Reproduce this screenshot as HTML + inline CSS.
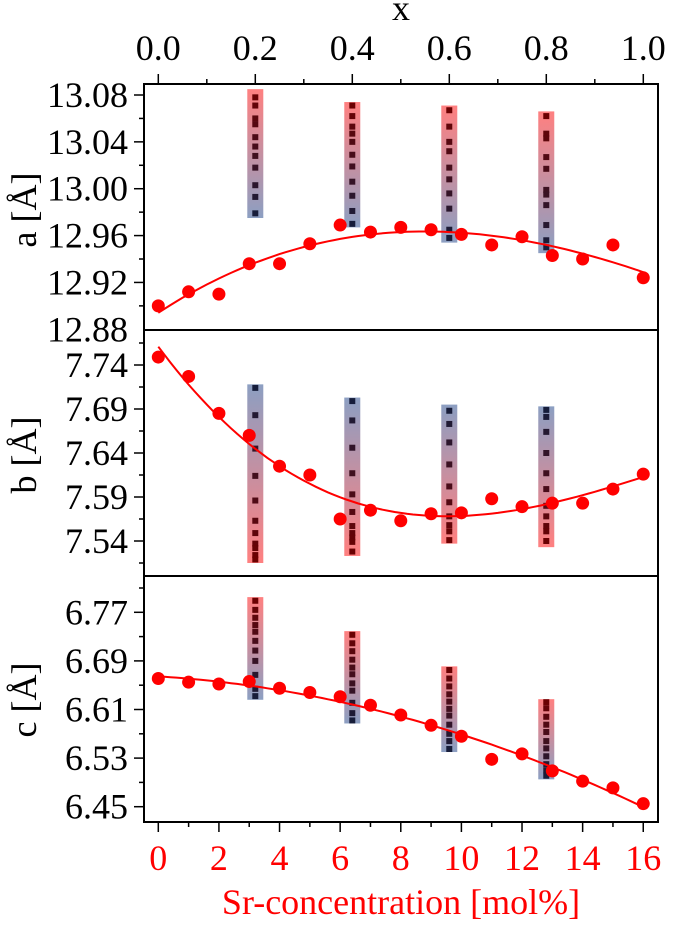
<!DOCTYPE html>
<html><head><meta charset="utf-8"><style>
html,body{margin:0;padding:0;background:#fff;}
svg{display:block;}
</style></head><body>
<svg id="chart" width="675" height="925" viewBox="0 0 675 925" xmlns="http://www.w3.org/2000/svg" font-family="Liberation Serif, Times New Roman, Tinos, serif">
<defs>
<linearGradient id="gRB" x1="0" y1="0" x2="0" y2="1"><stop offset="0" stop-color="#ff8080"/><stop offset="1" stop-color="#8c9fc2"/></linearGradient>
<linearGradient id="gBR" x1="0" y1="0" x2="0" y2="1"><stop offset="0" stop-color="#8c9fc2"/><stop offset="1" stop-color="#ff8080"/></linearGradient>
</defs>
<g id="root"></g>
</svg>
<script>
const xVals=[0,1,2,3,4,5,6,7,8,9,10,11,12,13,14,15,16];
const aVals=[12.900,12.912,12.910,12.936,12.936,12.953,12.969,12.963,12.967,12.965,12.961,12.952,12.959,12.943,12.940,12.952,12.924];
const bVals=[7.749,7.727,7.685,7.660,7.625,7.615,7.565,7.575,7.563,7.571,7.572,7.588,7.579,7.583,7.583,7.599,7.616];
const cVals=[6.661,6.655,6.652,6.656,6.645,6.638,6.631,6.617,6.601,6.584,6.566,6.528,6.537,6.509,6.492,6.481,6.455];
const boxX=[3.2,6.4,9.6,12.8];
const aBoxTop=[13.085,13.074,13.071,13.066];
const aBoxBot=[12.975,12.967,12.954,12.945];
const aSq=[[13.078,13.071,13.060,13.055,13.044,13.036,13.028,13.018,13.003,12.993,12.979],
[13.071,13.062,13.053,13.047,13.040,13.029,13.019,13.006,12.994,12.981,12.970],
[13.067,13.053,13.040,13.032,13.018,13.008,12.996,12.983,12.965,12.958],
[13.062,13.047,13.043,13.027,13.017,12.999,12.995,12.986,12.969,12.956,12.950]];
const bBoxTop=[7.718,7.703,7.695,7.693];
const bBoxBot=[7.515,7.523,7.537,7.533];
const bSq=[[7.714,7.683,7.645,7.614,7.586,7.563,7.549,7.537,7.532,7.524,7.519],
[7.699,7.677,7.646,7.617,7.593,7.573,7.557,7.549,7.544,7.539,7.528],
[7.688,7.673,7.652,7.627,7.602,7.584,7.568,7.558,7.551,7.541],
[7.689,7.681,7.664,7.640,7.617,7.599,7.580,7.568,7.557,7.551,7.540]];
const cBoxTop=[6.795,6.739,6.681,6.627];
const cBoxBot=[6.626,6.587,6.540,6.495];
const cSq=[[6.789,6.774,6.761,6.749,6.738,6.723,6.707,6.690,6.667,6.644,6.632],
[6.733,6.719,6.706,6.692,6.679,6.668,6.653,6.641,6.621,6.604,6.592],
[6.675,6.661,6.648,6.635,6.623,6.611,6.600,6.585,6.570,6.558,6.545],
[6.622,6.612,6.598,6.585,6.573,6.558,6.546,6.533,6.520,6.510,6.501]];
const aTicks=["12.88","12.92","12.96","13.00","13.04","13.08"];
const bTicks=["7.54","7.59","7.64","7.69","7.74"];
const cTicks=["6.45","6.53","6.61","6.69","6.77"];
const xTicks=["0","2","4","6","8","10","12","14","16"];
const topTicks=["0.0","0.2","0.4","0.6","0.8","1.0"];

const NS="http://www.w3.org/2000/svg";
const FF="Liberation Serif, Times New Roman, Tinos, serif";
const FS=36;
const root=document.getElementById('root');
function mk(tag,attrs,parent){const e=document.createElementNS(NS,tag);for(const k in attrs)e.setAttribute(k,attrs[k]);(parent||root).appendChild(e);return e;}
function txt(attrs,parent){attrs['font-family']=FF;attrs['font-size']=FS;return mk('text',attrs,parent);}
const L=144,R=658;
function X(v){return 158.3+v*30.31;}
function lin(v0,p0,v1,p1){return v=>p0+(v-v0)*(p1-p0)/(v1-v0);}
const panels=[
 {key:'a',top:84,bot:330,Y:lin(12.88,329.3,13.08,95),ticks:aTicks,minor:0.02,vals:aVals,deg:3,bt:aBoxTop,bb:aBoxBot,sq:aSq,grad:'gRB',sqTop:[110,0,0],sqBot:[20,30,60],title:'a [Å]',ty:210},
 {key:'b',top:330,bot:576,Y:lin(7.54,541,7.74,365),ticks:bTicks,minor:0.025,vals:bVals,deg:3,bt:bBoxTop,bb:bBoxBot,sq:bSq,grad:'gBR',sqTop:[20,30,60],sqBot:[110,0,0],title:'b [Å]',ty:455},
 {key:'c',top:576,bot:822,Y:lin(6.45,806.7,6.77,612.3),ticks:cTicks,minor:0.04,vals:cVals,deg:2,bt:cBoxTop,bb:cBoxBot,sq:cSq,grad:'gRB',sqTop:[110,0,0],sqBot:[20,30,60],title:'c [Å]',ty:700}
];
function fitPoly(xs,ys,deg){const n=deg+1;const M=[];
 for(let i=0;i<n;i++){M.push([]);for(let j=0;j<n;j++){let s=0;xs.forEach(x=>s+=Math.pow(x,i+j));M[i].push(s);}let t=0;xs.forEach((x,k)=>t+=ys[k]*Math.pow(x,i));M[i].push(t);}
 for(let i=0;i<n;i++){for(let j=i+1;j<n;j++){const f=M[j][i]/M[i][i];for(let k=i;k<=n;k++)M[j][k]-=f*M[i][k];}}
 const c=new Array(n).fill(0);for(let i=n-1;i>=0;i--){let s=M[i][n];for(let k=i+1;k<n;k++)s-=M[i][k]*c[k];c[i]=s/M[i][i];}return c;}
panels.forEach(p=>{
 const g=mk('g',{});
 
 
 boxX.forEach((bx,i)=>{
  const r=mk('rect',{x:X(bx)-8,y:p.Y(p.bt[i]),width:16,height:p.Y(p.bb[i])-p.Y(p.bt[i]),fill:'url(#'+p.grad+')'},g);
  
  
  const y0=p.Y(p.bt[i]),y1=p.Y(p.bb[i]);
  p.sq[i].forEach(v=>{const y=p.Y(v);const t=Math.max(0,Math.min(1,(y-y0)/(y1-y0)));
   const col='rgb('+p.sqTop.map((c,k)=>Math.round(c+(p.sqBot[k]-c)*t)).join(',')+')';
   const s=mk('rect',{x:X(bx)-3,y:y-3,width:6,height:6,fill:col},g);
   
   });
 });
 const c=fitPoly(xVals,p.vals,p.deg);let d='';
 for(let i=0;i<=80;i++){const x=i*16/80;let y=0;c.forEach((ck,k)=>y+=ck*Math.pow(x,k));d+=(i?'L':'M')+X(x).toFixed(1)+','+p.Y(y).toFixed(1);}
 const fl=mk('path',{d:d,fill:'none',stroke:'#f00','stroke-width':2},g);
 
 
 p.vals.forEach((v,i)=>{const ci=mk('circle',{cx:X(xVals[i]),cy:p.Y(v),r:6.5,fill:'#f00'},g);
  
  });
 const v0=parseFloat(p.ticks[0]),v1=parseFloat(p.ticks[p.ticks.length-1]);
 const ax=mk('g',{},g);
 
 
 for(let v=v0-p.minor*3;v<=v1+p.minor*3+1e-9;v+=p.minor){const y=p.Y(v);if(y<p.top+2||y>p.bot-2)continue;
  const major=Math.abs(((v-v0)/(p.minor*2))-Math.round((v-v0)/(p.minor*2)))<1e-6;
  mk('line',{x1:L-(major?10:5),x2:L,y1:y,y2:y,stroke:'#000','stroke-width':1.5},ax);}
 p.ticks.forEach(t=>{const tx=txt({x:128,y:p.Y(parseFloat(t))+12,'text-anchor':'end',fill:'#000'},ax);tx.textContent=t;
  
  });
 const tt=txt({x:0,y:0,'text-anchor':'middle',fill:'#000',transform:'translate(36,'+p.ty+') rotate(-90)'},g);
 tt.textContent=p.title;
 
 
});
const fr=mk('rect',{x:L,y:84,width:R-L,height:822-84,fill:'none',stroke:'#000','stroke-width':2});


[330,576].forEach(y=>{const l=mk('line',{x1:L,x2:R,y1:y,y2:y,stroke:'#000','stroke-width':2});
 
 });
for(let v=0;v<=16;v++){mk('line',{x1:X(v),x2:X(v),y1:822,y2:822+(v%2?5:10),stroke:'#000','stroke-width':1.5});}
xTicks.forEach(t=>{const tx=txt({x:X(parseFloat(t)),y:870,'text-anchor':'middle',fill:'#f00'});tx.textContent=t;
 
 });
const xt=txt({x:401,y:914,'text-anchor':'middle',fill:'#f00'});xt.textContent='Sr-concentration [mol%]';


function XT(v){return 158.3+v*485;}
for(let i=0;i<=10;i++){const v=i/10;mk('line',{x1:XT(v),x2:XT(v),y1:84,y2:84-(i%2?5:10),stroke:'#000','stroke-width':1.5});}
topTicks.forEach(t=>{const tx=txt({x:XT(parseFloat(t)),y:60,'text-anchor':'middle',fill:'#000'});tx.textContent=t;
 
 });
const tt2=txt({x:401,y:20,'text-anchor':'middle',fill:'#000'});tt2.textContent='x';


</script>
</body></html>
